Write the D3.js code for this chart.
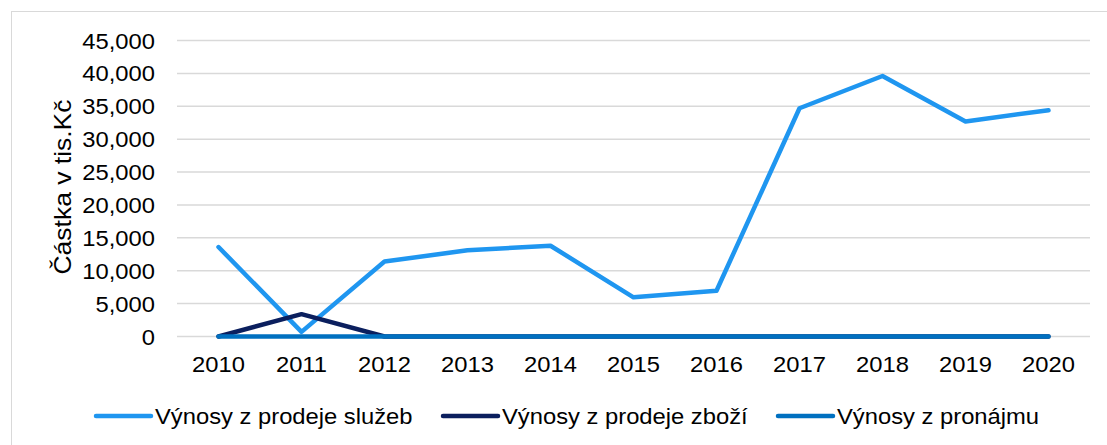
<!DOCTYPE html>
<html>
<head>
<meta charset="utf-8">
<script src="https://cdn.jsdelivr.net/npm/d3@7"></script>
<style>
  body { margin: 0; background: #fff; }
  text { font-family: "Liberation Sans", Arial, sans-serif; fill: #000; }
</style>
</head>
<body>
<div id="container"></div>
<script>
var years = ["2010", "2011", "2012", "2013", "2014", "2015", "2016", "2017", "2018", "2019", "2020"];
var sluzby = [13600, 700, 11400, 13100, 13800, 5950, 6950, 34700, 39600, 32700, 34400];
var zbozi = [0, 3400, 0, 0, 0, 0, 0, 0, 0, 0, 0];
var pronajem = [0, 0, 0, 0, 0, 0, 0, 0, 0, 0, 0];
var seriesNames = ["Výnosy z prodeje služeb", "Výnosy z prodeje zboží", "Výnosy z pronájmu"];
var yTicks = [0, 5000, 10000, 15000, 20000, 25000, 30000, 35000, 40000, 45000];

var w = 1107, h = 445;
var stretch = 1.08; // text in the picture is a bit wide

var svg = d3.select("#container").append("svg")
    .attr("width", w).attr("height", h);

// outer frame
svg.append("rect")
    .attr("x", 11.5).attr("y", 11.5)
    .attr("width", 1110).attr("height", 440)
    .attr("fill", "white").attr("stroke", "#d9d9d9").attr("stroke-width", 1);

var x = d3.scalePoint().domain(years).range([177, 1090]).padding(0.5);
var y = d3.scaleLinear().domain([0, 45000]).range([336.5, 40.5]);

function widen(sel) {
  sel.each(function() {
    var len = this.getComputedTextLength();
    d3.select(this).attr("textLength", len * stretch).attr("lengthAdjust", "spacingAndGlyphs");
  });
}

// gridlines
svg.append("g").selectAll("line")
  .data(yTicks)
  .enter().append("line")
    .attr("x1", 177).attr("x2", 1090)
    .attr("y1", function(d) { return y(d); })
    .attr("y2", function(d) { return y(d); })
    .attr("stroke", "#d9d9d9").attr("stroke-width", 1.5);

// y labels
var fmt = d3.format(",");
svg.append("g").selectAll("text")
  .data(yTicks)
  .enter().append("text")
    .attr("x", 155)
    .attr("y", function(d) { return y(d) + 8; })
    .attr("text-anchor", "end")
    .attr("font-size", 22)
    .text(function(d) { return fmt(d); })
    .call(widen);

// x labels
svg.append("g").selectAll("text")
  .data(years)
  .enter().append("text")
    .attr("x", function(d) { return x(d); })
    .attr("y", 372)
    .attr("text-anchor", "middle")
    .attr("font-size", 22)
    .text(function(d) { return d; })
    .call(widen);

// y axis title
svg.append("text")
    .attr("transform", "translate(71,187) rotate(-90)")
    .attr("text-anchor", "middle")
    .attr("font-size", 24)
    .text("Částka v tis.Kč")
    .attr("textLength", 175).attr("lengthAdjust", "spacingAndGlyphs");

var colors = ["#1f96f0", "#0b1f5e", "#0070c0"];
var data = [sluzby, zbozi, pronajem];

var line = d3.line()
    .x(function(d, i) { return x(years[i]); })
    .y(function(d) { return y(d); });

svg.append("g").selectAll("path")
  .data(data)
  .enter().append("path")
    .attr("d", line)
    .attr("fill", "none")
    .attr("stroke", function(d, i) { return colors[i]; })
    .attr("stroke-width", 4.5)
    .attr("stroke-linejoin", "round")
    .attr("stroke-linecap", "round");

// legend
var legX = [96, 443, 778];
var leg = svg.append("g").selectAll("g")
  .data(seriesNames)
  .enter().append("g")
    .attr("transform", function(d, i) { return "translate(" + legX[i] + ",416)"; });

leg.append("line")
    .attr("x1", 0).attr("x2", 55)
    .attr("stroke", function(d, i) { return colors[i]; })
    .attr("stroke-width", 4.5)
    .attr("stroke-linecap", "round");

leg.append("text")
    .attr("x", 59).attr("y", 7.5)
    .attr("font-size", 22)
    .text(function(d) { return d; })
    .call(widen);
</script>
</body>
</html>
